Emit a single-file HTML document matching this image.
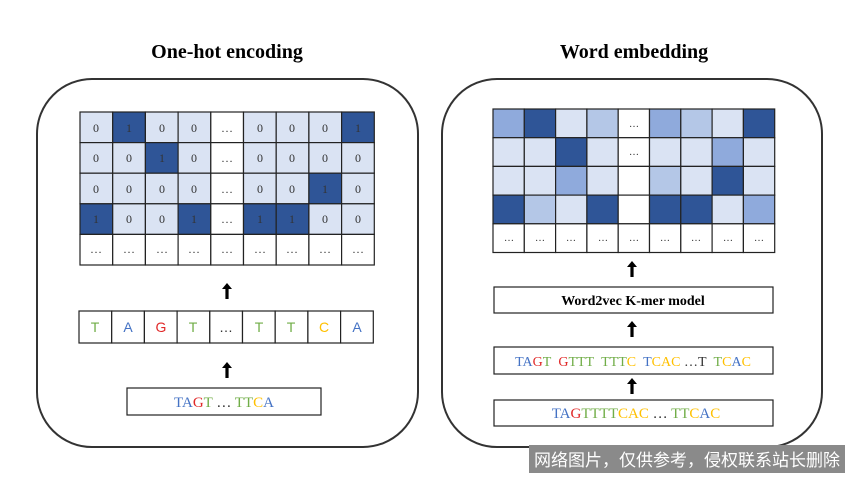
<!DOCTYPE html>
<html><head><meta charset="utf-8"><style>
html,body{margin:0;padding:0;background:#fff;}
svg{display:block;}
.t{font-family:"Liberation Serif",serif;}
.s{font-family:"Liberation Sans",sans-serif;}
</style></head><body>
<svg width="850" height="478" viewBox="0 0 850 478" xmlns="http://www.w3.org/2000/svg">
<defs>
<g id="arr"><rect x="-1.6" y="5" width="3.2" height="11" fill="#000"/><polygon points="-5,6 5,6 0,0" fill="#000"/></g>
</defs>
<text x="227" y="58" text-anchor="middle" class="t" font-size="20" font-weight="bold">One-hot encoding</text>
<text x="634" y="58" text-anchor="middle" class="t" font-size="20" font-weight="bold">Word embedding</text>
<rect x="37" y="79" width="381" height="368" rx="55" fill="#fff" stroke="#333" stroke-width="2"/>
<rect x="442" y="79" width="380" height="368" rx="55" fill="#fff" stroke="#333" stroke-width="2"/>

<g class="t" font-size="12" text-anchor="middle">
<g stroke="#222" stroke-width="1.2">
<rect x="80" y="112" width="32.7" height="30.6" fill="#dae3f3"/><rect x="112.7" y="112" width="32.7" height="30.6" fill="#2f5597"/><rect x="145.4" y="112" width="32.7" height="30.6" fill="#dae3f3"/><rect x="178.1" y="112" width="32.7" height="30.6" fill="#dae3f3"/><rect x="210.8" y="112" width="32.7" height="30.6" fill="#fff"/><rect x="243.5" y="112" width="32.7" height="30.6" fill="#dae3f3"/><rect x="276.2" y="112" width="32.7" height="30.6" fill="#dae3f3"/><rect x="308.9" y="112" width="32.7" height="30.6" fill="#dae3f3"/><rect x="341.6" y="112" width="32.7" height="30.6" fill="#2f5597"/>
<rect x="80" y="142.6" width="32.7" height="30.6" fill="#dae3f3"/><rect x="112.7" y="142.6" width="32.7" height="30.6" fill="#dae3f3"/><rect x="145.4" y="142.6" width="32.7" height="30.6" fill="#2f5597"/><rect x="178.1" y="142.6" width="32.7" height="30.6" fill="#dae3f3"/><rect x="210.8" y="142.6" width="32.7" height="30.6" fill="#fff"/><rect x="243.5" y="142.6" width="32.7" height="30.6" fill="#dae3f3"/><rect x="276.2" y="142.6" width="32.7" height="30.6" fill="#dae3f3"/><rect x="308.9" y="142.6" width="32.7" height="30.6" fill="#dae3f3"/><rect x="341.6" y="142.6" width="32.7" height="30.6" fill="#dae3f3"/>
<rect x="80" y="173.2" width="32.7" height="30.6" fill="#dae3f3"/><rect x="112.7" y="173.2" width="32.7" height="30.6" fill="#dae3f3"/><rect x="145.4" y="173.2" width="32.7" height="30.6" fill="#dae3f3"/><rect x="178.1" y="173.2" width="32.7" height="30.6" fill="#dae3f3"/><rect x="210.8" y="173.2" width="32.7" height="30.6" fill="#fff"/><rect x="243.5" y="173.2" width="32.7" height="30.6" fill="#dae3f3"/><rect x="276.2" y="173.2" width="32.7" height="30.6" fill="#dae3f3"/><rect x="308.9" y="173.2" width="32.7" height="30.6" fill="#2f5597"/><rect x="341.6" y="173.2" width="32.7" height="30.6" fill="#dae3f3"/>
<rect x="80" y="203.8" width="32.7" height="30.6" fill="#2f5597"/><rect x="112.7" y="203.8" width="32.7" height="30.6" fill="#dae3f3"/><rect x="145.4" y="203.8" width="32.7" height="30.6" fill="#dae3f3"/><rect x="178.1" y="203.8" width="32.7" height="30.6" fill="#2f5597"/><rect x="210.8" y="203.8" width="32.7" height="30.6" fill="#fff"/><rect x="243.5" y="203.8" width="32.7" height="30.6" fill="#2f5597"/><rect x="276.2" y="203.8" width="32.7" height="30.6" fill="#2f5597"/><rect x="308.9" y="203.8" width="32.7" height="30.6" fill="#dae3f3"/><rect x="341.6" y="203.8" width="32.7" height="30.6" fill="#dae3f3"/>
<rect x="80" y="234.4" width="32.7" height="30.6" fill="#fff"/><rect x="112.7" y="234.4" width="32.7" height="30.6" fill="#fff"/><rect x="145.4" y="234.4" width="32.7" height="30.6" fill="#fff"/><rect x="178.1" y="234.4" width="32.7" height="30.6" fill="#fff"/><rect x="210.8" y="234.4" width="32.7" height="30.6" fill="#fff"/><rect x="243.5" y="234.4" width="32.7" height="30.6" fill="#fff"/><rect x="276.2" y="234.4" width="32.7" height="30.6" fill="#fff"/><rect x="308.9" y="234.4" width="32.7" height="30.6" fill="#fff"/><rect x="341.6" y="234.4" width="32.7" height="30.6" fill="#fff"/>
</g>
<g fill="#333">
<text x="96" y="132">0</text><text x="129" y="132">1</text><text x="162" y="132">0</text><text x="194" y="132">0</text><text x="227" y="132">…</text><text x="260" y="132">0</text><text x="292" y="132">0</text><text x="325" y="132">0</text><text x="358" y="132">1</text>
<text x="96" y="162">0</text><text x="129" y="162">0</text><text x="162" y="162">1</text><text x="194" y="162">0</text><text x="227" y="162">…</text><text x="260" y="162">0</text><text x="292" y="162">0</text><text x="325" y="162">0</text><text x="358" y="162">0</text>
<text x="96" y="193">0</text><text x="129" y="193">0</text><text x="162" y="193">0</text><text x="194" y="193">0</text><text x="227" y="193">…</text><text x="260" y="193">0</text><text x="292" y="193">0</text><text x="325" y="193">1</text><text x="358" y="193">0</text>
<text x="96" y="223">1</text><text x="129" y="223">0</text><text x="162" y="223">0</text><text x="194" y="223">1</text><text x="227" y="223">…</text><text x="260" y="223">1</text><text x="292" y="223">1</text><text x="325" y="223">0</text><text x="358" y="223">0</text>
<text x="96" y="253">…</text><text x="129" y="253">…</text><text x="162" y="253">…</text><text x="194" y="253">…</text><text x="227" y="253">…</text><text x="260" y="253">…</text><text x="292" y="253">…</text><text x="325" y="253">…</text><text x="358" y="253">…</text>
</g>
</g>

<use href="#arr" x="227" y="283"/>
<g stroke="#222" stroke-width="1.2" fill="#fff">
<rect x="79" y="311" width="32.7" height="32"/><rect x="111.7" y="311" width="32.7" height="32"/><rect x="144.4" y="311" width="32.7" height="32"/><rect x="177.1" y="311" width="32.7" height="32"/><rect x="209.8" y="311" width="32.7" height="32"/><rect x="242.5" y="311" width="32.7" height="32"/><rect x="275.2" y="311" width="32.7" height="32"/><rect x="307.9" y="311" width="32.7" height="32"/><rect x="340.6" y="311" width="32.7" height="32"/>
</g>
<g class="s" font-size="14" text-anchor="middle">
<text x="95" y="332" fill="#70ad47">T</text><text x="128" y="332" fill="#4472c4">A</text><text x="161" y="332" fill="#e02828">G</text><text x="193" y="332" fill="#70ad47">T</text><text x="226" y="332" fill="#333">…</text><text x="259" y="332" fill="#70ad47">T</text><text x="291" y="332" fill="#70ad47">T</text><text x="324" y="332" fill="#ffc000">C</text><text x="357" y="332" fill="#4472c4">A</text>
</g>
<use href="#arr" x="227" y="362"/>
<rect x="127" y="388" width="194" height="27" fill="#fff" stroke="#222" stroke-width="1.2"/>
<text x="224" y="407" text-anchor="middle" class="t" font-size="15"><tspan fill="#4472c4">TA</tspan><tspan fill="#e02828">G</tspan><tspan fill="#70ad47">T</tspan><tspan fill="#333"> … </tspan><tspan fill="#70ad47">TT</tspan><tspan fill="#ffc000">C</tspan><tspan fill="#4472c4">A</tspan></text>

<g stroke="#222" stroke-width="1.2">
<rect x="493" y="109" width="31.3" height="28.7" fill="#8faadc"/><rect x="524.3" y="109" width="31.3" height="28.7" fill="#2f5597"/><rect x="555.6" y="109" width="31.3" height="28.7" fill="#dae3f3"/><rect x="586.9" y="109" width="31.3" height="28.7" fill="#b4c7e7"/><rect x="618.2" y="109" width="31.3" height="28.7" fill="#fff"/><rect x="649.5" y="109" width="31.3" height="28.7" fill="#8faadc"/><rect x="680.8" y="109" width="31.3" height="28.7" fill="#b4c7e7"/><rect x="712.1" y="109" width="31.3" height="28.7" fill="#dae3f3"/><rect x="743.4" y="109" width="31.3" height="28.7" fill="#2f5597"/>
<rect x="493" y="137.7" width="31.3" height="28.7" fill="#dae3f3"/><rect x="524.3" y="137.7" width="31.3" height="28.7" fill="#dae3f3"/><rect x="555.6" y="137.7" width="31.3" height="28.7" fill="#2f5597"/><rect x="586.9" y="137.7" width="31.3" height="28.7" fill="#dae3f3"/><rect x="618.2" y="137.7" width="31.3" height="28.7" fill="#fff"/><rect x="649.5" y="137.7" width="31.3" height="28.7" fill="#dae3f3"/><rect x="680.8" y="137.7" width="31.3" height="28.7" fill="#dae3f3"/><rect x="712.1" y="137.7" width="31.3" height="28.7" fill="#8faadc"/><rect x="743.4" y="137.7" width="31.3" height="28.7" fill="#dae3f3"/>
<rect x="493" y="166.4" width="31.3" height="28.7" fill="#dae3f3"/><rect x="524.3" y="166.4" width="31.3" height="28.7" fill="#dae3f3"/><rect x="555.6" y="166.4" width="31.3" height="28.7" fill="#8faadc"/><rect x="586.9" y="166.4" width="31.3" height="28.7" fill="#dae3f3"/><rect x="618.2" y="166.4" width="31.3" height="28.7" fill="#fff"/><rect x="649.5" y="166.4" width="31.3" height="28.7" fill="#b4c7e7"/><rect x="680.8" y="166.4" width="31.3" height="28.7" fill="#dae3f3"/><rect x="712.1" y="166.4" width="31.3" height="28.7" fill="#2f5597"/><rect x="743.4" y="166.4" width="31.3" height="28.7" fill="#dae3f3"/>
<rect x="493" y="195.1" width="31.3" height="28.7" fill="#2f5597"/><rect x="524.3" y="195.1" width="31.3" height="28.7" fill="#b4c7e7"/><rect x="555.6" y="195.1" width="31.3" height="28.7" fill="#dae3f3"/><rect x="586.9" y="195.1" width="31.3" height="28.7" fill="#2f5597"/><rect x="618.2" y="195.1" width="31.3" height="28.7" fill="#fff"/><rect x="649.5" y="195.1" width="31.3" height="28.7" fill="#2f5597"/><rect x="680.8" y="195.1" width="31.3" height="28.7" fill="#2f5597"/><rect x="712.1" y="195.1" width="31.3" height="28.7" fill="#dae3f3"/><rect x="743.4" y="195.1" width="31.3" height="28.7" fill="#8faadc"/>
<rect x="493" y="223.8" width="31.3" height="28.7" fill="#fff"/><rect x="524.3" y="223.8" width="31.3" height="28.7" fill="#fff"/><rect x="555.6" y="223.8" width="31.3" height="28.7" fill="#fff"/><rect x="586.9" y="223.8" width="31.3" height="28.7" fill="#fff"/><rect x="618.2" y="223.8" width="31.3" height="28.7" fill="#fff"/><rect x="649.5" y="223.8" width="31.3" height="28.7" fill="#fff"/><rect x="680.8" y="223.8" width="31.3" height="28.7" fill="#fff"/><rect x="712.1" y="223.8" width="31.3" height="28.7" fill="#fff"/><rect x="743.4" y="223.8" width="31.3" height="28.7" fill="#fff"/>
</g>
<g class="t" font-size="10" text-anchor="middle" fill="#333">
<text x="634" y="127">…</text><text x="634" y="155">…</text>
<text x="509" y="241">…</text><text x="540" y="241">…</text><text x="571" y="241">…</text><text x="603" y="241">…</text><text x="634" y="241">…</text><text x="665" y="241">…</text><text x="696" y="241">…</text><text x="728" y="241">…</text><text x="759" y="241">…</text>
</g>

<use href="#arr" x="632" y="261"/>
<rect x="494" y="287" width="279" height="26" fill="#fff" stroke="#222" stroke-width="1.2"/>
<text x="633" y="305" text-anchor="middle" class="t" font-size="14" font-weight="bold">Word2vec K-mer model</text>
<use href="#arr" x="632" y="321"/>
<rect x="494" y="347" width="279" height="27" fill="#fff" stroke="#222" stroke-width="1.2"/>
<text x="633" y="366" text-anchor="middle" class="t" font-size="14"><tspan fill="#4472c4">TA</tspan><tspan fill="#e02828">G</tspan><tspan fill="#70ad47">T</tspan>&#160;&#160;<tspan fill="#e02828">G</tspan><tspan fill="#70ad47">TTT</tspan>&#160;&#160;<tspan fill="#70ad47">TTT</tspan><tspan fill="#ffc000">C</tspan>&#160;&#160;<tspan fill="#4472c4">T</tspan><tspan fill="#ffc000">CAC</tspan><tspan fill="#333">&#160;…T&#160;&#160;</tspan><tspan fill="#70ad47">T</tspan><tspan fill="#ffc000">C</tspan><tspan fill="#4472c4">A</tspan><tspan fill="#ffc000">C</tspan></text>
<use href="#arr" x="632" y="378"/>
<rect x="494" y="400" width="279" height="26" fill="#fff" stroke="#222" stroke-width="1.2"/>
<text x="636" y="418" text-anchor="middle" class="t" font-size="15"><tspan fill="#4472c4">TA</tspan><tspan fill="#e02828">G</tspan><tspan fill="#70ad47">TTTT</tspan><tspan fill="#ffc000">CAC</tspan><tspan fill="#333"> … </tspan><tspan fill="#70ad47">TT</tspan><tspan fill="#ffc000">C</tspan><tspan fill="#4472c4">A</tspan><tspan fill="#ffc000">C</tspan></text>

<rect x="529" y="445" width="316" height="28" fill="#8a8a8a"/>
<text x="687" y="466" text-anchor="middle" font-family="'Noto Sans CJK SC',sans-serif" font-size="17" fill="#fff">网络图片，仅供参考，侵权联系站长删除</text>
</svg>
</body></html>
